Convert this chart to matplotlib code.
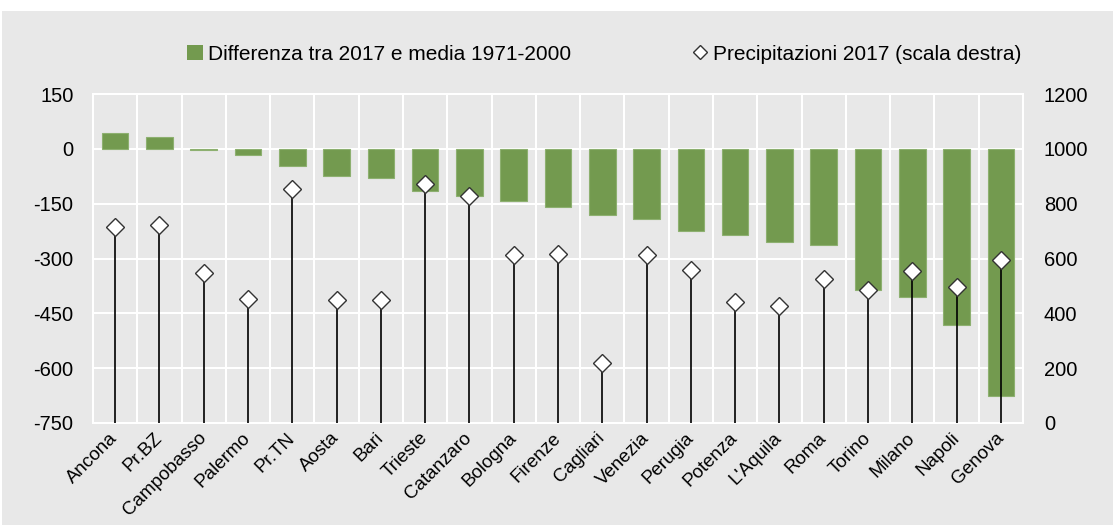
import numpy as np
import matplotlib
matplotlib.use("Agg")
import matplotlib.pyplot as plt
from matplotlib.lines import Line2D
from matplotlib.patches import Patch, Rectangle

# data
cities = ["Ancona", "Pr.BZ", "Campobasso", "Palermo", "Pr.TN", "Aosta", "Bari",
          "Trieste", "Catanzaro", "Bologna", "Firenze", "Cagliari", "Venezia",
          "Perugia", "Potenza", "L'Aquila", "Roma", "Torino", "Milano", "Napoli",
          "Genova"]
diff_vs_mean = [42, 32, -4, -17, -48, -75, -80, -115, -130, -143, -160, -182,
                -192, -225, -235, -255, -264, -387, -404, -482, -677]
precip_2017 = [716, 722, 548, 451, 852, 450, 447, 870, 829, 613, 618, 219,
               613, 558, 441, 428, 524, 485, 554, 495, 594]

bg = "#e8e8e8"
green = "#739a4f"

plt.rcParams["font.family"] = ["Liberation Sans", "DejaVu Sans"]
plt.rcParams["axes.unicode_minus"] = False

fig = plt.figure(figsize=(11.13, 5.25), dpi=100)
fig.patch.set_facecolor("white")
fig.patches.append(Rectangle((2 / 1113, 0), 1, 1 - 11 / 525, transform=fig.transFigure,
                             facecolor=bg, edgecolor="none", zorder=-10))

ax = fig.add_axes([93 / 1113, 1 - 423 / 525, 930 / 1113, 329 / 525])
ax.set_facecolor(bg)
x = np.arange(len(cities))

ax.bar(x, diff_vs_mean, width=0.6, color=green, edgecolor="#8db070", linewidth=0.8, zorder=2)
ax.set_ylim(-750, 150)
ax.set_yticks(np.arange(-750, 151, 150))
ax.set_xlim(-0.5, len(cities) - 0.5)
ax.set_xticks(x)
ax.set_xticklabels(cities, rotation=45, ha="right", va="center", rotation_mode="anchor", fontsize=13.5)
ax.set_xticks(np.arange(0.5, len(cities) - 1, 1), minor=True)
ax.tick_params(axis="x", which="both", length=0, pad=9)
ax.tick_params(axis="y", length=0, pad=14, labelsize=14.5)
ax.grid(axis="y", color="white", linewidth=1.5, zorder=0)
ax.grid(axis="x", which="minor", color="white", linewidth=1.5, zorder=0)
ax.set_axisbelow(True)
for s in ax.spines.values():
    s.set_color("white")
    s.set_linewidth(1.5)

ax2 = ax.twinx()
ax2.set_ylim(0, 1200)
ax2.set_yticks(np.arange(0, 1201, 200))
ax2.tick_params(axis="y", length=0, pad=15, labelsize=14.5)
for s in ax2.spines.values():
    s.set_visible(False)
ax2.vlines(x, 0, precip_2017, color="black", linewidth=1.2, zorder=3)
ax2.plot(x, precip_2017, linestyle="none", marker="D", markersize=9.5,
         markerfacecolor="white", markeredgecolor="#333333", markeredgewidth=1.0, zorder=4)

handles = [Patch(facecolor=green, edgecolor="none"),
           Line2D([], [], linestyle="none", marker="D", markersize=7,
                  markerfacecolor="white", markeredgecolor="#333333", markeredgewidth=1.0)]
labels = ["Differenza tra 2017 e media 1971-2000", "Precipitazioni 2017 (scala destra)"]
fig.legend(handles, labels, loc="center", bbox_to_anchor=(0.543, 0.897), ncol=2,
           frameon=False, fontsize=15, columnspacing=5.8, handlelength=0.75,
           handletextpad=0.25, handleheight=0.75)

fig.savefig("out.png", dpi=100, facecolor=fig.get_facecolor())
